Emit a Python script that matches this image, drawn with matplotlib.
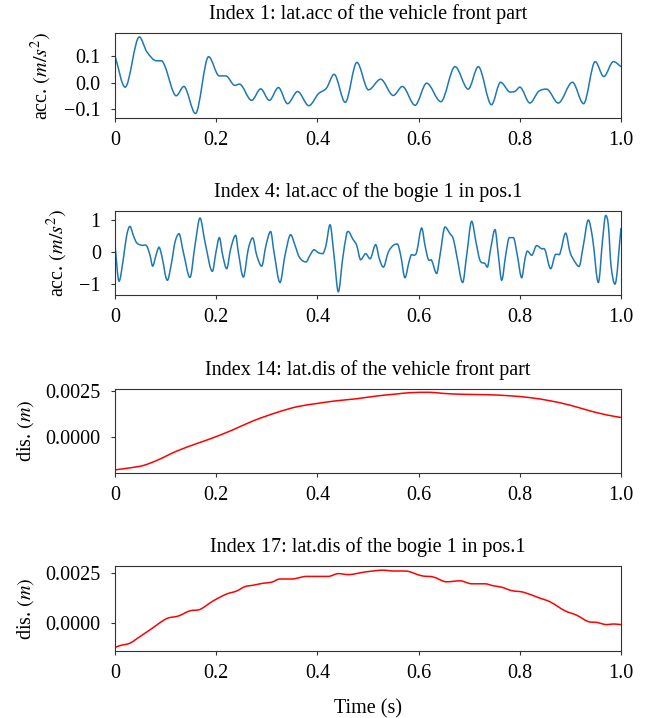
import matplotlib
matplotlib.use("Agg")
import matplotlib.pyplot as plt
from matplotlib.ticker import FixedLocator, FuncFormatter
from matplotlib.path import Path
from matplotlib.patches import PathPatch

plt.rcParams['font.family'] = ['Liberation Serif', 'DejaVu Serif']
plt.rcParams['mathtext.fontset'] = 'stix'
FS = 14.5

# ---- data ----
t1 = [0.000, 0.020, 0.048, 0.063, 0.082, 0.092, 0.099, 0.121, 0.136, 0.159, 0.185,
      0.206, 0.219, 0.237, 0.246, 0.270, 0.288, 0.305, 0.323, 0.341, 0.361, 0.383,
      0.402, 0.418, 0.433, 0.455, 0.478, 0.501, 0.525, 0.550, 0.568, 0.593, 0.616,
      0.644, 0.672, 0.698, 0.718, 0.744, 0.762, 0.781, 0.791, 0.800, 0.820, 0.837,
      0.853, 0.876, 0.904, 0.926, 0.949, 0.966, 0.985, 1.000]
acc1 = [0.100, -0.0175, 0.172, 0.116, 0.082, 0.082, 0.060, -0.050, -0.015, -0.117, 0.0975,
        0.025, 0.025, -0.011, -0.006, -0.0675, -0.024, -0.0675, -0.019, -0.080, -0.034, -0.0875,
        -0.0425, -0.021, 0.031, -0.075, 0.076, -0.0275, 0.0125, -0.049, -0.015, -0.086, -0.0025,
        -0.0725, 0.060, -0.025, 0.060, -0.084, 0.001, -0.036, -0.033, -0.0175, -0.0775, -0.034,
        -0.025, -0.0775, 0.001, -0.080, 0.079, 0.0225, 0.079, 0.060]

t4 = [0.0, 0.008, 0.0165, 0.0231, 0.0296, 0.0362, 0.0428, 0.0527, 0.0626, 0.0692, 0.0744,
      0.081, 0.087, 0.0922, 0.1034, 0.112, 0.1186, 0.1265, 0.135, 0.1482, 0.1581, 0.168,
      0.1779, 0.1924, 0.1996, 0.2062, 0.2128, 0.2207, 0.2286, 0.2385, 0.2437, 0.2536, 0.2635,
      0.2721, 0.28, 0.2899, 0.2984, 0.3076, 0.3142, 0.3261, 0.336, 0.3472, 0.3557, 0.3643,
      0.3775, 0.3854, 0.3933, 0.4018, 0.4104, 0.417, 0.4249, 0.4328, 0.4414, 0.4499, 0.4578,
      0.4611, 0.4697, 0.4776, 0.4855, 0.4954, 0.504, 0.5152, 0.5224, 0.5303, 0.5402, 0.5501,
      0.558, 0.5646, 0.5731, 0.581, 0.5863, 0.5909, 0.5962, 0.6061, 0.6126, 0.6192, 0.6258,
      0.6357, 0.6423, 0.6522, 0.6621, 0.6686, 0.6752, 0.6871, 0.695, 0.7049, 0.7134, 0.7213,
      0.7312, 0.7358, 0.7424, 0.751, 0.7576, 0.7642, 0.7721, 0.7793, 0.7872, 0.7951, 0.8037,
      0.8103, 0.8149, 0.8235, 0.8333, 0.8432, 0.8498, 0.861, 0.8696, 0.8742, 0.8794, 0.8907,
      0.8992, 0.9091, 0.917, 0.9256, 0.9354, 0.944, 0.9552, 0.9638, 0.9697, 0.975, 0.9802,
      0.9881, 1.0]
acc4 = [0.21, -0.91, -0.21, 0.52, 0.80, 0.52, 0.29, 0.21, 0.19, -0.10, -0.44,
        -0.10, 0.15, -0.10, -0.88, -0.31, 0.31, 0.57, 0.0, -0.79, 0.21, 1.06,
        0.31, -0.60, 0.0, 0.45, -0.10, -0.52, 0.10, 0.52, 0.0, -0.78, 0.10,
        0.44, -0.10, -0.44, 0.21, 0.64, 0.0, -0.95, -0.10, 0.54, 0.21, -0.16,
        -0.31, -0.10, 0.07, -0.02, -0.05, 0.21, 0.85, -0.10, -1.24, -0.21, 0.57,
        0.64, 0.41, 0.21, -0.24, -0.05, -0.21, 0.23, -0.21, -0.47, 0.0, 0.21,
        0.25, -0.10, -0.80, -0.31, -0.08, -0.10, 0.0, 0.75, 0.21, -0.23, -0.26,
        -0.67, -0.10, 0.78, 0.57, 0.41, -0.10, -0.95, -0.10, 0.96, 0.31, -0.26,
        -0.36, -0.47, 0.10, 0.70, -0.10, -0.88, -0.10, 0.45, 0.45, -0.10, -0.80,
        -0.21, 0.03, -0.10, 0.20, 0.10, 0.07, -0.52, -0.10, -0.07, -0.05, 0.59,
        0.0, -0.31, -0.45, 0.21, 1.0, 0.41, -0.95, 0.41, 1.14, 0.83, -0.41,
        -1.0, 0.75]

t14 = [0.0, 0.0296, 0.056, 0.0823, 0.1219, 0.1614, 0.1943, 0.2339, 0.2734, 0.3195,
       0.359, 0.3986, 0.4381, 0.4776, 0.5171, 0.5567, 0.583, 0.6225, 0.6489, 0.6884,
       0.7345, 0.7806, 0.8202, 0.8597, 0.8992, 0.9387, 0.9717, 1.0]
dis14 = [-0.00179, -0.00168, -0.00155, -0.00128, -0.00077, -0.00036, -0.00004, 0.00040,
         0.00088, 0.00133, 0.00164, 0.00182, 0.00197, 0.00208, 0.00223, 0.00234, 0.00241,
         0.00243, 0.00237, 0.00232, 0.00230, 0.00224, 0.00214, 0.00197, 0.00173, 0.00142,
         0.00120, 0.00106]

t17 = [0.0, 0.0099, 0.0296, 0.0428, 0.0692, 0.1021, 0.1252, 0.1482, 0.168, 0.1943,
       0.2207, 0.2404, 0.2569, 0.2734, 0.2931, 0.3096, 0.3261, 0.3491, 0.3788, 0.4216,
       0.4414, 0.4611, 0.4941, 0.5303, 0.5501, 0.5731, 0.6061, 0.6291, 0.6555, 0.6818,
       0.7049, 0.7312, 0.7477, 0.7642, 0.7839, 0.807, 0.8366, 0.8597, 0.8893, 0.9124,
       0.9354, 0.9519, 0.9717, 0.9848, 1.0]
dis17 = [-0.00122, -0.00113, -0.00101, -0.00079, -0.00034, 0.00022, 0.00035, 0.00061,
         0.00068, 0.00111, 0.00145, 0.00160, 0.00182, 0.00189, 0.00199, 0.00204, 0.00220,
         0.00220, 0.00233, 0.00233, 0.00247, 0.00242, 0.00255, 0.00264, 0.00260, 0.00260,
         0.00236, 0.00230, 0.00206, 0.00211, 0.00196, 0.00196, 0.00186, 0.00179, 0.00162,
         0.00154, 0.00127, 0.00106, 0.00061, 0.00039, 0.00007, 0.00003, -0.00008, -0.00005,
         -0.00008]

titles = ["Index 1: lat.acc of the vehicle front part",
          "Index 4: lat.acc of the bogie 1 in pos.1",
          "Index 14: lat.dis of the vehicle front part",
          "Index 17: lat.dis of the bogie 1 in pos.1"]
ylabels = [r"acc. $(m/s^2)$", r"acc. $(m/s^2)$", r"dis. $(m)$", r"dis. $(m)$"]
xticks = [0, 0.2, 0.4, 0.6, 0.8, 1.0]
xticklabels = ["0", "0.2", "0.4", "0.6", "0.8", "1.0"]
yticks = [[-0.1, 0.0, 0.1], [-1, 0, 1], [0.0, 0.0025], [0.0, 0.0025]]
ylims = [(-0.134, 0.187), (-1.34, 1.28), (-0.00196, 0.00261), (-0.0014, 0.00285)]

series = [(t1, acc1, '#1f77b4'), (t4, acc4, '#1f77b4'),
          (t14, dis14, '#ff0000'), (t17, dis17, '#ff0000')]
fmts = [lambda v, p: f"{v:.1f}".replace('-', '\u2212'),
        lambda v, p: f"{v:.0f}".replace('-', '\u2212'),
        lambda v, p: f"{v:.4f}",
        lambda v, p: f"{v:.4f}"]


def smooth_path(x, y):
    """Monotone-style cubic Bezier path through the read points (drawing style only)."""
    n = len(x)
    m = []
    for i in range(n):
        if i == 0:
            m.append((y[1] - y[0]) / (x[1] - x[0]))
        elif i == n - 1:
            m.append((y[-1] - y[-2]) / (x[-1] - x[-2]))
        else:
            d0 = y[i] - y[i - 1]
            d1 = y[i + 1] - y[i]
            if d0 * d1 <= 0:
                m.append(0.0)
            else:
                m.append((y[i + 1] - y[i - 1]) / (x[i + 1] - x[i - 1]))
    verts = [(x[0], y[0])]
    codes = [Path.MOVETO]
    for i in range(n - 1):
        dx = (x[i + 1] - x[i]) / 3.0
        verts += [(x[i] + dx, y[i] + m[i] * dx),
                  (x[i + 1] - dx, y[i + 1] - m[i + 1] * dx),
                  (x[i + 1], y[i + 1])]
        codes += [Path.CURVE4] * 3
    return Path(verts, codes)


fig = plt.figure(figsize=(6.54, 7.18), dpi=100)
W, H = 654, 718
boxes = [(33, 118), (211, 295), (389, 473), (566, 651)]
left, right = 115, 621
for i, (top, bot) in enumerate(boxes):
    ax = fig.add_axes([left / W, 1 - bot / H, (right - left) / W, (bot - top) / H])
    x, y, c = series[i]
    ax.add_patch(PathPatch(smooth_path(x, y), facecolor='none', edgecolor=c, lw=1.1))
    ax.set_xlim(0, 1)
    ax.set_ylim(*ylims[i])
    ax.xaxis.set_major_locator(FixedLocator(xticks))
    ax.set_xticklabels(xticklabels)
    ax.yaxis.set_major_locator(FixedLocator(yticks[i]))
    ax.yaxis.set_major_formatter(FuncFormatter(fmts[i]))
    ax.set_title(titles[i], fontsize=FS, pad=10)
    ax.set_ylabel(ylabels[i], fontsize=FS, labelpad=7)
    ax.tick_params(labelsize=FS, length=3.2, color='#333333')
    ax.tick_params(axis='x', pad=6.5)
    ax.tick_params(axis='y', pad=7)
    for s in ax.spines.values():
        s.set_color('#333333')
    if i == 3:
        ax.set_xlabel("Time (s)", fontsize=FS, labelpad=11)

fig.savefig("out.png", dpi=100)
